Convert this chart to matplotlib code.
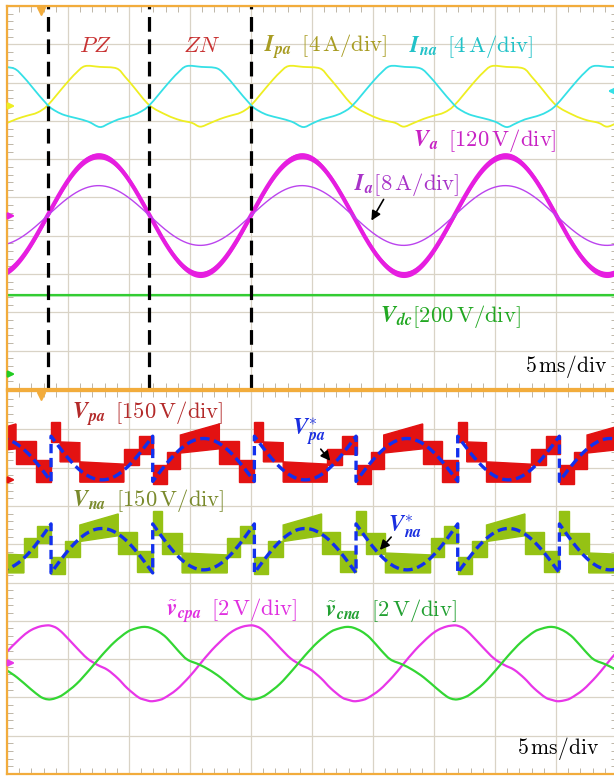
import matplotlib
matplotlib.use("Agg")
import matplotlib.pyplot as plt
import numpy as np
from matplotlib.path import Path
from matplotlib.patches import PathPatch, FancyArrowPatch

plt.rcParams['mathtext.fontset'] = 'cm'

W_PX, H_PX = 614, 777

# --- Scope time base ---
MS_PER_DIV = 5
N_DIV = 10
T_MS = 1000.0 / 60.0          # 60 Hz line period, ms

# --- Top screen: ac side (levels in div, 0 = bottom of screen) ---
T0_TOP = 3.34                  # Va rising zero crossing, ms
VA_OFFSET, VA_AMP = 4.54, 1.55
IA_OFFSET, IA_AMP = 4.53, 0.78
VDC_LEVEL = 2.45

# one period of the arm currents, phase (deg) from T0_TOP
IPA_PHASE = [0, 33, 50, 66, 92, 122, 137, 152, 180, 211, 234, 255, 270, 287, 305, 322, 342, 360]
IPA_LEVEL = [7.41, 7.98, 8.25, 8.43, 8.41, 8.37, 8.15, 7.89, 7.41, 7.15, 7.02, 6.95, 6.85, 6.94, 7.05, 7.13, 7.22, 7.41]
INA_PHASE = [0, 15, 30, 51, 72, 92, 108, 125, 145, 162, 180, 213, 230, 246, 272, 300, 317, 332, 360]
INA_LEVEL = [7.41, 7.25, 7.15, 7.07, 6.98, 6.84, 6.93, 7.04, 7.12, 7.22, 7.41, 7.98, 8.25, 8.43, 8.41, 8.37, 8.15, 7.89, 7.41]

# --- Bottom screen: arm voltages and capacitor ripple ---
T0_BOT = 3.61                  # start of PZ interval on the lower screen, ms

# arm voltage steps over one period: start/end phase (deg), bottom and top at start/end (div)
VPA_START = [0, 16, 51, 129, 156, 181, 206, 229, 298, 333]
VPA_END = [16, 51, 129, 156, 181, 206, 229, 298, 333, 360]
VPA_BOT0 = [8.67, 8.15, 7.62, 8.07, 8.36, 7.57, 7.96, 8.38, 8.09, 7.62]
VPA_BOT1 = [8.67, 8.15, 7.62, 8.07, 8.36, 7.57, 7.96, 8.49, 8.09, 7.62]
VPA_TOP0 = [9.19, 8.67, 8.15, 8.49, 8.83, 8.07, 8.41, 8.85, 8.69, 8.20]
VPA_TOP1 = [9.19, 8.65, 8.09, 8.49, 8.83, 8.07, 8.41, 9.14, 8.69, 8.20]

VNA_START = [0, 25, 51, 119, 152, 180, 197, 232, 312, 335]
VNA_END = [25, 51, 119, 152, 180, 197, 232, 312, 335, 360]
VNA_BOT0 = [5.22, 5.67, 6.07, 5.74, 5.28, 6.24, 5.74, 5.25, 5.67, 6.03]
VNA_BOT1 = [5.22, 5.67, 6.22, 5.74, 5.28, 6.24, 5.74, 5.25, 5.67, 6.03]
VNA_TOP0 = [5.67, 6.08, 6.50, 6.33, 5.82, 6.87, 6.30, 5.77, 6.16, 6.48]
VNA_TOP1 = [5.67, 6.08, 6.79, 6.33, 5.82, 6.87, 6.30, 5.72, 6.16, 6.48]

# references: (level at interval start, swing) for the PZ half then the ZN half
VPA_REF = [(8.82, -1.14), (7.64, 1.12)]
VNA_REF = [(5.25, 1.16), (6.53, -1.20)]

# capacitor voltage ripple, phase (deg) from T0_BOT
VCPA_PHASE = [0, 10, 22, 45, 64, 82, 100, 118, 135, 155, 168, 177, 188, 200, 222, 245, 262, 285,
              310, 325, 340, 353, 360]
VCPA_LEVEL = [3.87, 3.81, 3.66, 3.30, 3.02, 2.85, 2.72, 2.50, 2.24, 2.00, 1.93, 1.90, 1.92, 1.98,
              2.20, 2.54, 2.84, 3.24, 3.60, 3.76, 3.85, 3.88, 3.87]
VCNA_PHASE = [0, 10, 22, 45, 68, 90, 112, 135, 150, 163, 175, 190, 205, 225, 241, 262, 280, 300,
              323, 340, 348, 354, 360]
VCNA_LEVEL = [1.95, 1.99, 2.08, 2.35, 2.72, 3.10, 3.44, 3.71, 3.80, 3.84, 3.82, 3.72, 3.55, 3.22,
              2.99, 2.86, 2.72, 2.52, 2.23, 2.03, 1.97, 1.95, 1.95]

# --- Colours ---
ORANGE = '#f2ac3c'
GRID = '#d9d3c6'
C_IPA, C_INA = '#eeee22', '#35e0e6'
C_VA, C_IA, C_VDC = '#e61ee0', '#bb44ee', '#33cc33'
C_VPA, C_VNA, C_REF = '#e31212', '#95c214', '#1230ee'
C_VCPA, C_VCNA = '#e836e8', '#33d633'

PERIODS = range(-1, 4)


def tile(phase, level, t0):
    ph = np.asarray(phase[:-1], float)
    t = np.concatenate([t0 + (k + ph / 360.0) * T_MS for k in PERIODS])
    y = np.tile(np.asarray(level[:-1], float), len(PERIODS))
    return t, y


def smooth_line(ax, t, y, color, lw):
    # Catmull-Rom through the read points
    p = np.column_stack([t, y])
    verts, codes = [p[0]], [Path.MOVETO]
    n = len(p)
    for i in range(n - 1):
        p0, p1, p2, p3 = p[max(i - 1, 0)], p[i], p[i + 1], p[min(i + 2, n - 1)]
        verts += [p1 + (p2 - p0) / 6.0, p2 - (p3 - p1) / 6.0, p2]
        codes += [Path.CURVE4] * 3
    ax.add_patch(PathPatch(Path(verts, codes), fill=False, edgecolor=color, lw=lw))


def steps(ax, t0, start, end, bot0, bot1, top0, top1, color):
    for k in PERIODS:
        for s, e, b0, b1, a0, a1 in zip(start, end, bot0, bot1, top0, top1):
            ts = t0 + (k + s / 360.0) * T_MS
            te = t0 + (k + e / 360.0) * T_MS
            ax.fill([ts, te, te, ts], [b0, b1, a1, a0], color=color, lw=1.0, ec=color)


def reference(ax, t0, halves):
    th = np.linspace(0, np.pi, 60)
    ts, ys = [], []
    for k in PERIODS:
        for h, (lev, swing) in enumerate(halves):
            ts.append(t0 + (k + h / 2.0 + th / (2 * np.pi)) * T_MS)
            ys.append(lev + swing * np.sin(th))
    ax.plot(np.concatenate(ts), np.concatenate(ys), color=C_REF, lw=2.4,
            linestyle=(0, (2.8, 1.4)))


def ground(ax, y, color, left=True):
    if left:
        xy, xyt = (0.9, y), (0.0, y)
    else:
        xy, xyt = (49.0, y), (49.9, y)
    ax.annotate('', xy=xy, xytext=xyt, annotation_clip=False,
                arrowprops=dict(arrowstyle='-|>', color=color, lw=1.6, mutation_scale=9))


def screen(ax):
    ax.set_xlim(0, N_DIV * MS_PER_DIV)
    ax.set_ylim(0, N_DIV)
    ax.set_xticks(np.arange(0, 50.1, MS_PER_DIV))
    ax.set_yticks(np.arange(0, 10.1, 1))
    ax.set_xticks(np.arange(0, 50.1, 1), minor=True)
    ax.set_yticks(np.arange(0, 10.01, 0.2), minor=True)
    ax.grid(True, which='major', color=GRID, lw=0.9)
    ax.set_axisbelow(True)
    ax.tick_params(which='both', direction='in', top=True, right=True,
                   labelbottom=False, labelleft=False)
    ax.tick_params(which='major', length=0)
    ax.tick_params(which='minor', length=4, width=0.7, color='#bdb6a8')
    for s in ax.spines.values():
        s.set_color(ORANGE)
        s.set_linewidth(1.6)
    ax.plot(2.76, 9.88, marker='v', ms=6, color=ORANGE, clip_on=False)


def px(x, y):
    return x / W_PX, 1 - y / H_PX


fig = plt.figure(figsize=(W_PX / 100, H_PX / 100), dpi=100)
ax1 = fig.add_axes([7 / W_PX, 1 - 389 / H_PX, 610 / W_PX, 383 / H_PX])
ax2 = fig.add_axes([7 / W_PX, 1 - 774 / H_PX, 610 / W_PX, 383 / H_PX])
screen(ax1)
screen(ax2)

# ---------------- top screen ----------------
t = np.linspace(0, 50, 1500)
w = 2 * np.pi / T_MS
va = VA_OFFSET + VA_AMP * np.sin(w * (t - T0_TOP))
ia = IA_OFFSET + IA_AMP * np.sin(w * (t - T0_TOP))

smooth_line(ax1, *tile(IPA_PHASE, IPA_LEVEL, T0_TOP), C_IPA, 1.3)
smooth_line(ax1, *tile(INA_PHASE, INA_LEVEL, T0_TOP), C_INA, 1.3)
ax1.fill_between(t, va - 0.08, va + 0.08, color=C_VA, lw=0)
ax1.plot(t, va, color=C_VA, lw=3.0)
ax1.plot(t, ia, color=C_IA, lw=1.0)
ax1.plot(t, np.full_like(t, VDC_LEVEL), color=C_VDC, lw=1.8)

for tb in T0_TOP + np.array([0, 0.5, 1.0]) * T_MS:
    ax1.axvline(tb, color='black', lw=2.3, linestyle=(0, (4.6, 2.4)))

ground(ax1, 7.39, C_IPA)
ground(ax1, 4.52, C_VA)
ground(ax1, 0.39, '#22cc22')
ground(ax1, 7.78, C_INA, left=False)

# ---------------- bottom screen ----------------
steps(ax2, T0_BOT, VPA_START, VPA_END, VPA_BOT0, VPA_BOT1, VPA_TOP0, VPA_TOP1, C_VPA)
steps(ax2, T0_BOT, VNA_START, VNA_END, VNA_BOT0, VNA_BOT1, VNA_TOP0, VNA_TOP1, C_VNA)
reference(ax2, T0_BOT, VPA_REF)
reference(ax2, T0_BOT, VNA_REF)
smooth_line(ax2, *tile(VCPA_PHASE, VCPA_LEVEL, T0_BOT), C_VCPA, 1.6)
smooth_line(ax2, *tile(VCNA_PHASE, VCNA_LEVEL, T0_BOT), C_VCNA, 1.6)

ground(ax2, 7.68, C_VPA)
ground(ax2, 2.90, C_VCPA)

# ---------------- labels ----------------
FS = 16.3
fig.text(*px(95, 45), r'$PZ$', color='#c83232', fontsize=FS, ha='center', va='center')
fig.text(*px(202, 45), r'$ZN$', color='#c83232', fontsize=FS, ha='center', va='center')
fig.text(*px(264, 47), r'$\boldsymbol{I}_{\boldsymbol{pa}}\enspace[4\,\mathrm{A/div}]$',
         color='#a89c22', fontsize=FS, va='center')
fig.text(*px(409, 47), r'$\boldsymbol{I}_{\boldsymbol{na}}\enspace[4\,\mathrm{A/div}]$',
         color='#22c2c8', fontsize=FS, va='center')
fig.text(*px(413, 140), r'$\boldsymbol{V}_{\boldsymbol{a}}\enspace[120\,\mathrm{V/div}]$',
         color='#c822c4', fontsize=FS, va='center')
fig.text(*px(354, 184), r'$\boldsymbol{I}_{\boldsymbol{a}}[8\,\mathrm{A/div}]$',
         color='#a833c8', fontsize=FS, va='center')
fig.text(*px(380, 317), r'$\boldsymbol{V}_{\boldsymbol{dc}}[200\,\mathrm{V/div}]$',
         color='#22a822', fontsize=FS, va='center')
fig.text(*px(607, 367), r'$5\,\mathrm{ms/div}$', color='black', fontsize=15.5,
         ha='right', va='center')

fig.text(*px(72, 414), r'$\boldsymbol{V}_{\boldsymbol{pa}}\enspace[150\,\mathrm{V/div}]$',
         color='#b32a2a', fontsize=FS, va='center')
fig.text(*px(72, 500), r'$\boldsymbol{V}_{\boldsymbol{na}}\enspace[150\,\mathrm{V/div}]$',
         color='#7a8a2c', fontsize=FS, va='center')
fig.text(*px(292, 432), r'$\boldsymbol{V}^{*}_{\boldsymbol{pa}}$', color='#1a2ee0',
         fontsize=FS, va='center')
fig.text(*px(388, 527), r'$\boldsymbol{V}^{*}_{\boldsymbol{na}}$', color='#1a2ee0',
         fontsize=FS, va='center')
fig.text(*px(166, 611), r'$\tilde{\boldsymbol{v}}_{\boldsymbol{cpa}}\enspace[2\,\mathrm{V/div}]$',
         color='#e030e0', fontsize=FS, va='center')
fig.text(*px(325, 611), r'$\tilde{\boldsymbol{v}}_{\boldsymbol{cna}}\enspace[2\,\mathrm{V/div}]$',
         color='#22a032', fontsize=FS, va='center')
fig.text(*px(599, 749), r'$5\,\mathrm{ms/div}$', color='black', fontsize=15.5,
         ha='right', va='center')

arrow = dict(arrowstyle='-|>', color='black', lw=1.2, mutation_scale=14)
for (x0, y0), (x1, y1) in [((385, 197), (370, 223)), ((319, 447), (332, 463)),
                           ((393, 535), (378, 552))]:
    fig.add_artist(FancyArrowPatch(px(x0, y0), px(x1, y1),
                                   transform=fig.transFigure, **arrow))

fig.savefig('out.png', dpi=100)
